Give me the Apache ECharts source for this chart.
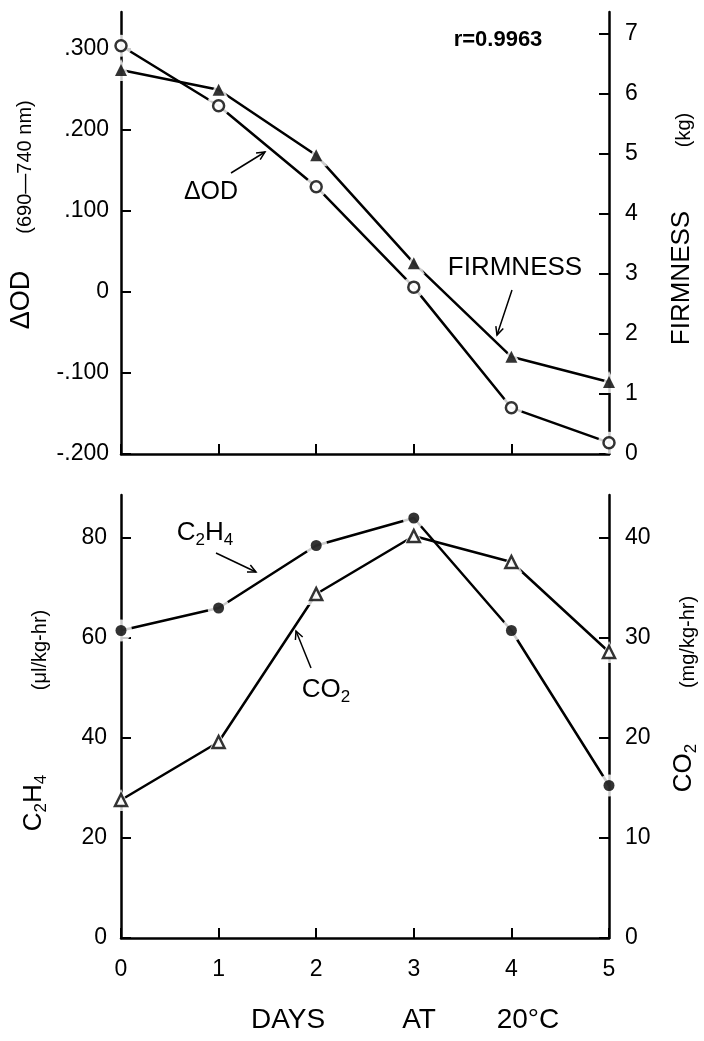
<!doctype html>
<html>
<head>
  <meta charset="utf-8">
  <title>index</title>
  <script src="https://cdn.jsdelivr.net/npm/echarts@6/dist/echarts.min.js"></script>
  <style>
    html, body { margin: 0; padding: 0; background: #fff; }
    #main { width: 704px; height: 1041px; }
  </style>
</head>
<body>
  <div id="main"></div>
  <script>
    // values
    var days = [0, 1, 2, 3, 4, 5];
    var deltaOD = [0.304, 0.230, 0.130, 0.006, -0.143, -0.186];
    var firmness = [6.4, 6.07, 4.98, 3.18, 1.62, 1.2];
    var c2h4 = [61.5, 66.0, 78.5, 84.0, 61.5, 30.5];
    var co2 = [13.8, 19.6, 34.4, 40.2, 37.6, 28.6];

    var odTicks = [-0.2, -0.1, 0, 0.1, 0.2, 0.3];
    var firmTicks = [0, 1, 2, 3, 4, 5, 6, 7];
    var c2h4Ticks = [0, 20, 40, 60, 80];
    var co2Ticks = [0, 10, 20, 30, 40];

    var FONT = 'Liberation Sans';
    var chart = echarts.init(document.getElementById('main'));

    function pairs(vals) {
      return days.map(function (d, i) { return [d, vals[i]]; });
    }

    function odLabel(v) {
      if (Math.abs(v) < 1e-9) return '0';
      var s = String(Math.round(Math.abs(v) * 1000));
      while (s.length < 3) s = '0' + s;
      return (v < 0 ? '-' : '') + '.' + s;
    }

    function xAx(grid, labels) {
      return {
        type: 'value', gridIndex: grid, min: 0, max: 5, interval: 1,
        axisLine: { onZero: false, lineStyle: { color: '#000', width: 2.5 } },
        axisTick: { inside: true, length: 10, lineStyle: { color: '#000', width: 2 } },
        axisLabel: { show: labels, color: '#000', fontSize: 23, fontFamily: FONT, margin: 20 },
        splitLine: { show: false }
      };
    }

    function yAx(grid, pos, min, max, ticks, fmt, margin) {
      return {
        type: 'value', gridIndex: grid, position: pos, min: min, max: max,
        axisLine: { show: true, onZero: false, lineStyle: { color: '#000', width: 2.5 } },
        axisTick: { show: true, inside: true, length: 10, customValues: ticks, lineStyle: { color: '#000', width: 2 } },
        axisLabel: { color: '#000', fontSize: 23, fontFamily: FONT, margin: margin, customValues: ticks, formatter: fmt },
        splitLine: { show: false }
      };
    }

    // line + white halo + marker, so the line stops short of each point
    function trio(name, vals, xi, yi, sym, filled) {
      var d = pairs(vals);
      return [
        { name: name, type: 'line', xAxisIndex: xi, yAxisIndex: yi, data: d, showSymbol: false, symbol: 'none',
          lineStyle: { color: '#000', width: 2.5 }, z: 2 },
        { type: 'scatter', xAxisIndex: xi, yAxisIndex: yi, data: d, symbol: sym, symbolSize: 22,
          itemStyle: { color: '#fff' }, z: 3, silent: true },
        { type: 'scatter', xAxisIndex: xi, yAxisIndex: yi, data: d, symbol: sym, symbolSize: sym === 'triangle' ? 12 : 11,
          itemStyle: filled ? { color: '#000' } : { color: '#fff', borderColor: '#000', borderWidth: 2.5 },
          z: 4 }
      ];
    }

    function arrow(x1, y1, x2, y2) {
      var a = Math.atan2(y2 - y1, x2 - x1), h = 9, w = 0.45;
      return [
        { type: 'line', shape: { x1: x1, y1: y1, x2: x2, y2: y2 }, style: { stroke: '#000', lineWidth: 1.5 } },
        { type: 'polyline', shape: { points: [
          [x2 - h * Math.cos(a - w), y2 - h * Math.sin(a - w)], [x2, y2],
          [x2 - h * Math.cos(a + w), y2 - h * Math.sin(a + w)]] },
          style: { stroke: '#000', lineWidth: 1.5, fill: null } }
      ];
    }

    function txt(x, y, text, size, opts) {
      opts = opts || {};
      return {
        type: 'text', x: x, y: y, rotation: opts.rot || 0,
        style: {
          text: text, fill: '#000', font: (opts.bold ? 'bold ' : '') + size + 'px ' + FONT,
          align: 'center', verticalAlign: 'middle', rich: opts.rich
        }
      };
    }

    var subRich = {
      b: { fontSize: 26, fontFamily: FONT, lineHeight: 32, verticalAlign: 'middle' },
      s: { fontSize: 17, fontFamily: FONT, lineHeight: 32, verticalAlign: 'bottom', padding: [12, 0, 0, 0] }
    };
    var R = Math.PI / 2;

    var graphics = [].concat(
      txt(498, 40, 'r=0.9963', 22, { bold: true }),
      txt(211, 192, 'ΔOD', 25),
      arrow(231, 173, 265, 152),
      txt(515, 268, 'FIRMNESS', 26),
      arrow(512, 290, 497, 335),
      txt(205, 533, '{b|C}{s|2}{b|H}{s|4}', 26, { rich: subRich }),
      arrow(216, 553, 256, 572),
      txt(326, 690, '{b|CO}{s|2}', 26, { rich: subRich }),
      arrow(311, 668, 296, 631),
      // axis titles
      txt(22, 300, 'ΔOD', 27, { rot: R }),
      txt(25, 167, '(690—740 nm)', 20, { rot: R }),
      txt(682, 278, 'FIRMNESS', 26, { rot: R }),
      txt(684, 130, '(kg)', 20, { rot: R }),
      txt(34, 803, '{b|C}{s|2}{b|H}{s|4}', 26, { rot: R, rich: subRich }),
      txt(40, 650, '(μl/kg-hr)', 20, { rot: R }),
      txt(684, 768, '{b|CO}{s|2}', 26, { rot: R, rich: subRich }),
      txt(688, 642, '(mg/kg-hr)', 20, { rot: R }),
      txt(288, 1020, 'DAYS', 28),
      txt(419, 1020, 'AT', 28),
      txt(528, 1020, '20°C', 28)
    );

    var option = {
      backgroundColor: '#fff',
      animation: false,
      grid: [
        { left: 121, right: 95, top: 12, height: 442 },
        { left: 121, right: 95, top: 495, height: 443 }
      ],
      xAxis: [xAx(0, false), xAx(1, true)],
      yAxis: [
        yAx(0, 'left', -0.2, -0.2 + 442 / 810, odTicks, odLabel, 12),
        yAx(0, 'right', 0, 442 / 60, firmTicks, null, 16),
        yAx(1, 'left', 0, 443 / 5, c2h4Ticks, null, 14),
        yAx(1, 'right', 0, 443 / 10, co2Ticks, null, 16)
      ],
      series: [].concat(
        trio('ΔOD', deltaOD, 0, 0, 'circle', false),
        trio('Firmness', firmness, 0, 1, 'triangle', true),
        trio('C2H4', c2h4, 1, 2, 'circle', true),
        trio('CO2', co2, 1, 3, 'triangle', false)
      ),
      graphic: graphics
    };
    chart.setOption(option);
  </script>
</body>
</html>
